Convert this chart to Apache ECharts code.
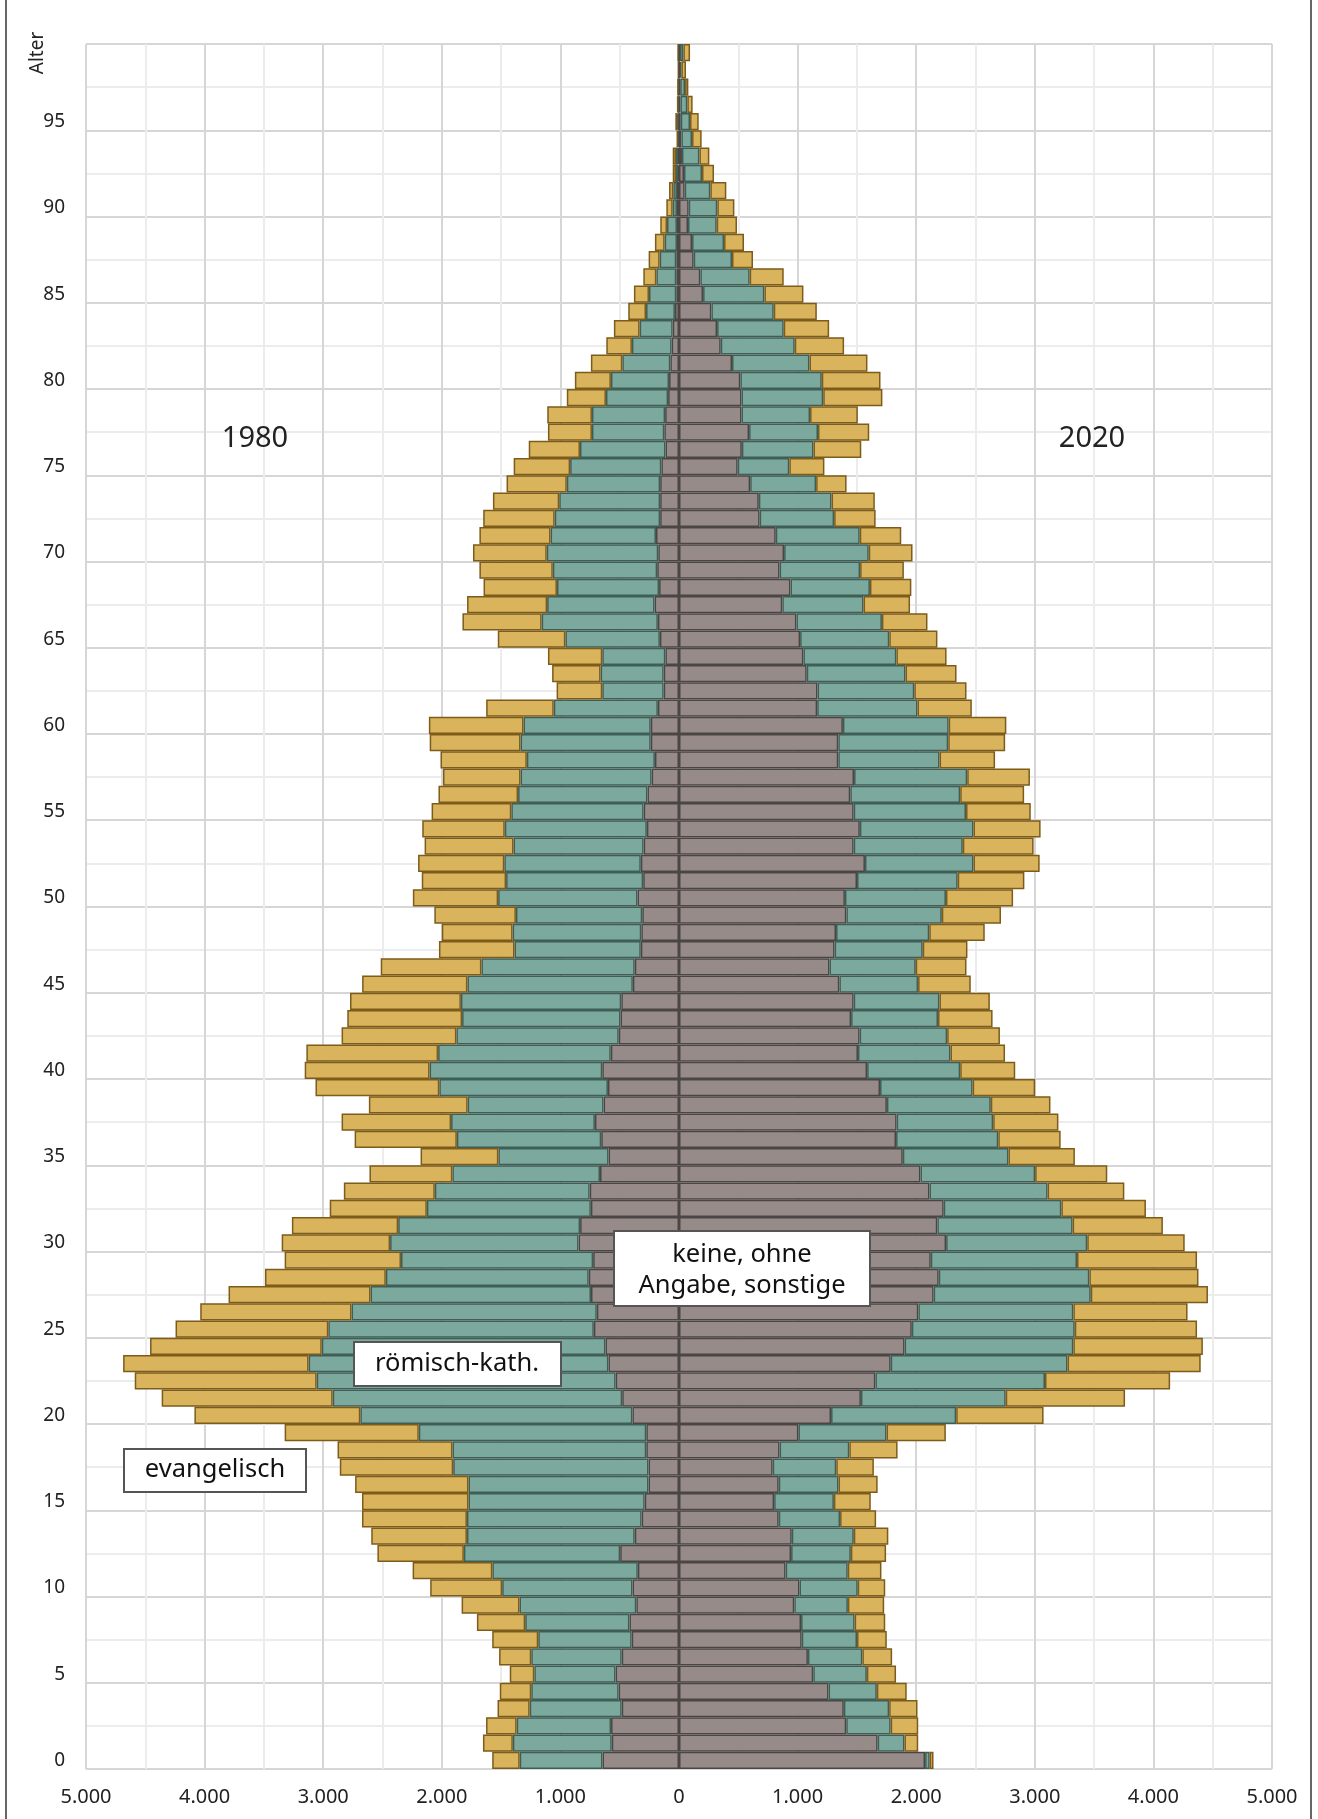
<!DOCTYPE html>
<html>
<head>
<meta charset="utf-8">
<script src="https://cdn.jsdelivr.net/npm/echarts@6/dist/echarts.min.js"></script>
<style>
html,body{margin:0;padding:0;background:#fff;}
#chart{width:1318px;height:1819px;}
</style>
</head>
<body>
<div id="chart"></div>
<script>
// Ages 0..99
const ages = Array.from({length:100}, (_, i) => String(i));

// 1980 (left side): keine/ohne Angabe/sonstige, römisch-kath., evangelisch
const keine1980 = [645,567,573,483,509,535,483,399,418,360,392,347,496,373,315,289,257,257,276,276,
393,479,534,595,620,718,693,742,761,724,847,834,743,753,666,594,656,709,636,599,
647,575,508,493,487,389,373,322,318,310,350,302,322,298,271,298,266,231,203,238,
238,178,129,129,115,161,178,206,168,184,175,194,159,159,159,149,114,124,117,92,
84,73,62,53,34,23,23,23,17,17,17,17,8,8,5,5,3,3,2,2];
const kath1980 = [698,834,796,776,737,685,763,788,879,985,1099,1227,1318,1415,1473,1486,1518,1647,1634,1918,
2294,2441,2521,2528,2392,2239,2068,1859,1711,1620,1589,1534,1383,1306,1245,929,1217,1213,1146,1422,
1456,1456,1369,1336,1352,1395,1293,1065,1085,1065,1175,1156,1151,1097,1198,1116,1091,1105,1080,1098,
1073,878,518,532,532,797,980,906,861,880,940,889,889,851,787,769,721,610,617,524,
490,405,335,279,244,230,168,140,104,84,36,31,17,17,7,10,5,4,2,3];
const evang1980 = [232,252,258,271,265,207,271,388,407,488,607,672,729,807,885,898,956,956,969,1131,
1399,1442,1534,1564,1448,1288,1276,1197,1019,981,914,896,819,767,699,656,862,923,833,1044,
1053,1111,968,968,935,888,849,637,597,688,719,711,727,750,696,672,671,654,728,766,
798,570,385,409,458,570,668,675,619,619,622,600,603,559,508,476,432,371,377,330,
304,265,216,217,150,127,110,93,82,57,54,36,28,28,5,16,7,4,2,5];

// 2020 (right side)
const keine2020 = [2075,1675,1410,1390,1261,1132,1087,1035,1029,972,1016,899,945,951,841,802,841,790,848,1007,
1282,1534,1656,1785,1902,1963,2018,2147,2190,2123,2252,2178,2232,2112,2036,1887,1830,1835,1753,1695,
1586,1509,1523,1451,1473,1352,1269,1312,1324,1411,1399,1501,1568,1473,1525,1473,1444,1476,1343,1343,
1382,1165,1168,1077,1049,1021,990,871,940,848,886,816,680,673,600,495,530,591,527,527,
517,447,352,321,273,203,180,124,110,76,82,48,42,25,20,15,12,10,8,8];
const kath2020 = [39,226,375,382,407,452,459,466,452,452,491,524,504,523,517,504,504,536,588,743,
1055,1221,1430,1491,1423,1374,1307,1325,1270,1233,1190,1141,992,996,967,891,862,814,876,781,
785,780,738,733,723,664,727,743,786,805,852,849,915,920,958,947,927,954,854,927,
892,846,816,833,784,752,721,685,670,679,714,708,628,613,556,435,604,581,578,689,
687,653,624,562,526,517,416,323,270,242,241,216,152,147,90,78,58,41,12,29];
const evang2020 = [32,116,232,239,252,246,251,251,258,306,232,284,297,291,304,311,330,317,407,500,
737,1006,1055,1123,1092,1031,963,988,920,1012,822,761,713,647,608,560,526,550,503,527,
464,460,445,460,425,444,428,377,468,499,566,562,558,597,566,546,539,529,468,480,
486,458,440,430,423,406,384,392,349,369,369,350,350,365,257,296,403,432,403,499,
495,489,416,383,363,329,287,177,168,171,144,135,101,84,81,73,45,28,39,56];

const xTickLabels = {'-5000':'5.000','-4000':'4.000','-3000':'3.000','-2000':'2.000','-1000':'1.000','0':'0',
  '1000':'1.000','2000':'2.000','3000':'3.000','4000':'4.000','5000':'5.000'};

const C = {
  grayFill:'#978b8a', grayLine:'#4b4544',
  tealFill:'#7ba99d', tealLine:'#3f5e56',
  goldFill:'#dab45d', goldLine:'#7c5b1b'
};
const FONT = '"Noto Sans", "Open Sans", sans-serif';

function mkSeries(name, stack, data, fill, line, neg) {
  return {
    name: name, type: 'bar', stack: stack,
    xAxisIndex: 0, yAxisIndex: 0,
    data: neg ? data.map(v => -v) : data.slice(),
    barCategoryGap: '0%', barGap: '-100%',
    itemStyle: { color: fill, borderColor: line, borderWidth: 1.5 },
    emphasis: { disabled: true },
    animation: false
  };
}

const chart = echarts.init(document.getElementById('chart'), null, {renderer:'canvas'});
chart.setOption({
  backgroundColor: '#fff',
  animation: false,
  grid: { left: 86, right: 46, top: 44, bottom: 50, containLabel: false },
  xAxis: {
    type: 'value', min: -5000, max: 5000, interval: 500,
    axisLine: { show: false }, axisTick: { show: false },
    axisLabel: {
      fontSize: 20, color: '#222', fontFamily: FONT, margin: 18,
      formatter: v => (xTickLabels[String(v)] !== undefined ? xTickLabels[String(v)] : '')
    },
    splitLine: { show: true, lineStyle: { color: ['#d6d6d6', '#ececec'], width: 2 } }
  },
  yAxis: [
    {
      type: 'category', data: ages,
      axisLine: { show: false }, axisTick: { show: false },
      axisLabel: { interval: 4, fontSize: 19, color: '#222', fontFamily: FONT, margin: 21, padding: [4, 0, 0, 0] },
      splitLine: { show: false }
    },
    {
      type: 'value', min: 0, max: 100, interval: 2.5, position: 'right',
      axisLine: { show: false }, axisTick: { show: false }, axisLabel: { show: false },
      splitLine: { show: true, lineStyle: { color: ['#d6d6d6', '#ececec'], width: 2 } }
    }
  ],
  series: [
    mkSeries('keine 1980', 'L', keine1980, C.grayFill, C.grayLine, true),
    mkSeries('römisch-kath. 1980', 'L', kath1980, C.tealFill, C.tealLine, true),
    mkSeries('evangelisch 1980', 'L', evang1980, C.goldFill, C.goldLine, true),
    mkSeries('keine 2020', 'R', keine2020, C.grayFill, C.grayLine, false),
    mkSeries('römisch-kath. 2020', 'R', kath2020, C.tealFill, C.tealLine, false),
    mkSeries('evangelisch 2020', 'R', evang2020, C.goldFill, C.goldLine, false)
  ],
  graphic: [
    { type:'line', z:100, shape:{x1:6, y1:-5, x2:6, y2:1830}, style:{stroke:'#000', lineWidth:1.2} },
    { type:'line', z:100, shape:{x1:1311, y1:-5, x2:1311, y2:1830}, style:{stroke:'#000', lineWidth:1.2} },
    { type:'text', z:100, x:38, y:53, rotation: Math.PI/2,
      style:{ text:'Alter', fontSize:19, fontFamily:FONT, fill:'#222', align:'center', verticalAlign:'middle' } },
    { type:'text', z:100, x:255, y:439,
      style:{ text:'1980', fontSize:29, fontFamily:FONT, fill:'#222', align:'center', verticalAlign:'middle' } },
    { type:'text', z:100, x:1092, y:439,
      style:{ text:'2020', fontSize:29, fontFamily:FONT, fill:'#222', align:'center', verticalAlign:'middle' } },
    { type:'rect', z:100, shape:{x:614, y:1231, width:256, height:75},
      style:{ fill:'#fff', stroke:'#555', lineWidth:2 } },
    { type:'text', z:101, x:742, y:1270,
      style:{ text:'keine, ohne\nAngabe, sonstige', fontSize:25.5, lineHeight:31, fontFamily:FONT, fill:'#111', align:'center', verticalAlign:'middle' } },
    { type:'rect', z:100, shape:{x:354, y:1342, width:207, height:44},
      style:{ fill:'#fff', stroke:'#555', lineWidth:2 } },
    { type:'text', z:101, x:457, y:1364,
      style:{ text:'römisch-kath.', fontSize:25.5, fontFamily:FONT, fill:'#111', align:'center', verticalAlign:'middle' } },
    { type:'rect', z:100, shape:{x:124, y:1449, width:182, height:43},
      style:{ fill:'#fff', stroke:'#555', lineWidth:2 } },
    { type:'text', z:101, x:215, y:1470,
      style:{ text:'evangelisch', fontSize:25.5, fontFamily:FONT, fill:'#111', align:'center', verticalAlign:'middle' } }
  ]
});
</script>
</body>
</html>
